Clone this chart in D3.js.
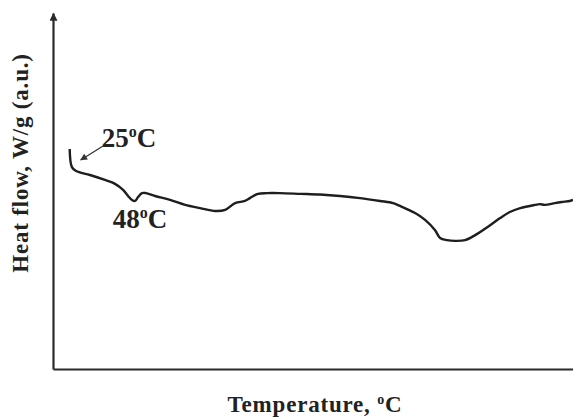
<!DOCTYPE html>
<meta charset="utf-8">

<script src="https://d3js.org/d3.v7.min.js"></script>

<style type="text/css">

body {
  margin: 0;
  background: #fff;
}

.axis path {
  stroke: #2a2a2a;
  stroke-width: 2.2px;
}

.axis .tick {
  display: none;
}

.line {
  stroke: #1e1e1e;
  fill: none;
  stroke-width: 2.4;
}

.label {
  font-family: "Liberation Serif", "Times New Roman", serif;
  font-weight: bold;
  fill: #222;
  letter-spacing: 0.8px;
}

.note {
  font-family: "Liberation Serif", "Times New Roman", serif;
  font-weight: bold;
  fill: #222;
}

</style>

<body>
</body>

<script>

// temperature (°C)
var temps = [25.0, 25.8, 27.3, 32.3, 37.7, 41.3, 44.2, 46.0, 47.4, 48.5,
  49.6, 51.0, 52.4, 55.7, 61.1, 66.5, 71.9, 77.3, 80.9, 84.5,
  88.0, 89.8, 92.7, 96.0, 100.6, 108.0, 115.0, 122.2, 129.4, 136.6,
  141.3, 143.8, 149.2, 152.8, 156.4, 158.2, 160.7, 163.6, 167.2, 170.8,
  176.2, 179.8, 183.3, 187.0, 192.4, 194.1, 195.9, 199.5, 202.0, 204.9, 206.0];

// heat flow (a.u.)
var heatFlow = [61.8, 56.7, 55.6, 54.5, 53.1, 52.0, 50.3, 48.6, 47.5, 47.2,
  48.3, 49.4, 49.4, 48.6, 47.5, 46.1, 45.2, 44.4, 44.7, 46.6,
  47.2, 48.0, 49.2, 49.4, 49.4, 49.2, 49.0, 48.6, 48.0, 47.2,
  46.6, 45.8, 43.8, 41.9, 39.0, 36.8, 36.2, 36.0, 36.2, 37.6,
  40.4, 42.4, 44.1, 45.2, 46.1, 46.3, 46.1, 46.6, 46.9, 47.2, 47.5];

var peaks = [
  {label: "25", temp: 25, flow: 61.8},
  {label: "48", temp: 48, flow: 47.2}
];

var xLabel = "Temperature, ",
    yLabel = "Heat flow, W/g (a.u.)";

var data = temps.map(function(t, i) { return {temp: t, flow: heatFlow[i]}; });

var margin = {top: 13, right: 0, bottom: 48, left: 53};

var width = 573 - margin.left - margin.right,
    height = 417 - margin.top - margin.bottom;

var root = d3.select("body").append("svg")
  .attr("width", 573)
  .attr("height", 417);

var defs = root.append("defs");

defs.append("marker")
  .attr("id", "axis-arrow")
  .attr("viewBox", "0 0 10 10")
  .attr("refX", 9).attr("refY", 5)
  .attr("markerWidth", 9).attr("markerHeight", 8)
  .attr("markerUnits", "userSpaceOnUse")
  .attr("orient", "auto")
  .append("path")
  .attr("d", "M0,0 L10,5 L0,10 Z")
  .attr("fill", "#2a2a2a");

defs.append("marker")
  .attr("id", "note-arrow")
  .attr("viewBox", "0 0 10 10")
  .attr("refX", 9).attr("refY", 5)
  .attr("markerWidth", 8).attr("markerHeight", 7)
  .attr("markerUnits", "userSpaceOnUse")
  .attr("orient", "auto")
  .append("path")
  .attr("d", "M0,0 L10,5 L0,10 Z")
  .attr("fill", "#333");

var svg = root.append("g")
  .attr("transform", "translate(" + margin.left + "," + margin.top + ")");

var xScale = d3.scaleLinear()
  .domain([19, 206])
  .range([0, width]);

var yScale = d3.scaleLinear()
  .domain([0, 100])
  .range([height, 0]);

var xAxis = d3.axisBottom(xScale).tickValues([]).tickSizeOuter(0);
var yAxis = d3.axisLeft(yScale).tickValues([]).tickSizeOuter(0);

svg.append("g")
  .attr("class", "x axis")
  .attr("transform", "translate(0," + height + ")")
  .call(xAxis);

svg.append("g")
  .attr("class", "y axis")
  .call(yAxis)
  .select("path")
  .attr("marker-end", "url(#axis-arrow)");

var lineGenerator = d3.line()
  .x(function(d) { return xScale(d.temp); })
  .y(function(d) { return yScale(d.flow); })
  .curve(d3.curveCatmullRom);

svg.append("path")
  .datum(data)
  .attr("class", "line")
  .attr("d", lineGenerator);

// 25 °C note with arrow
var p0 = peaks[0];
svg.append("line")
  .attr("x1", xScale(p0.temp) + 35)
  .attr("y1", yScale(p0.flow) - 4)
  .attr("x2", xScale(p0.temp) + 11)
  .attr("y2", yScale(p0.flow) + 11)
  .attr("stroke", "#333")
  .attr("stroke-width", 1.3)
  .attr("marker-end", "url(#note-arrow)");

function degreeText(sel, x, y, num) {
  var t = sel.append("text")
    .attr("class", "note")
    .attr("x", x)
    .attr("y", y)
    .style("font-size", "27px");
  t.append("tspan").text(num);
  t.append("tspan").attr("dy", -10).style("font-size", "16px").text("o");
  t.append("tspan").attr("dy", 10).text("C");
}

degreeText(svg, xScale(p0.temp) + 32, yScale(p0.flow) - 2, p0.label);

var p1 = peaks[1];
degreeText(svg, xScale(p1.temp) - 21, yScale(p1.flow) + 27, p1.label);

// axis titles
var xt = root.append("text")
  .attr("class", "label")
  .attr("x", 315)
  .attr("y", 412)
  .attr("text-anchor", "middle")
  .style("font-size", "23px");
xt.append("tspan").text(xLabel);
xt.append("tspan").attr("dy", -8).style("font-size", "14px").text("o");
xt.append("tspan").attr("dy", 8).text("C");

root.append("text")
  .attr("class", "label")
  .attr("transform", "translate(28,163) rotate(-90)")
  .attr("text-anchor", "middle")
  .style("font-size", "23px")
  .text(yLabel);

</script>
